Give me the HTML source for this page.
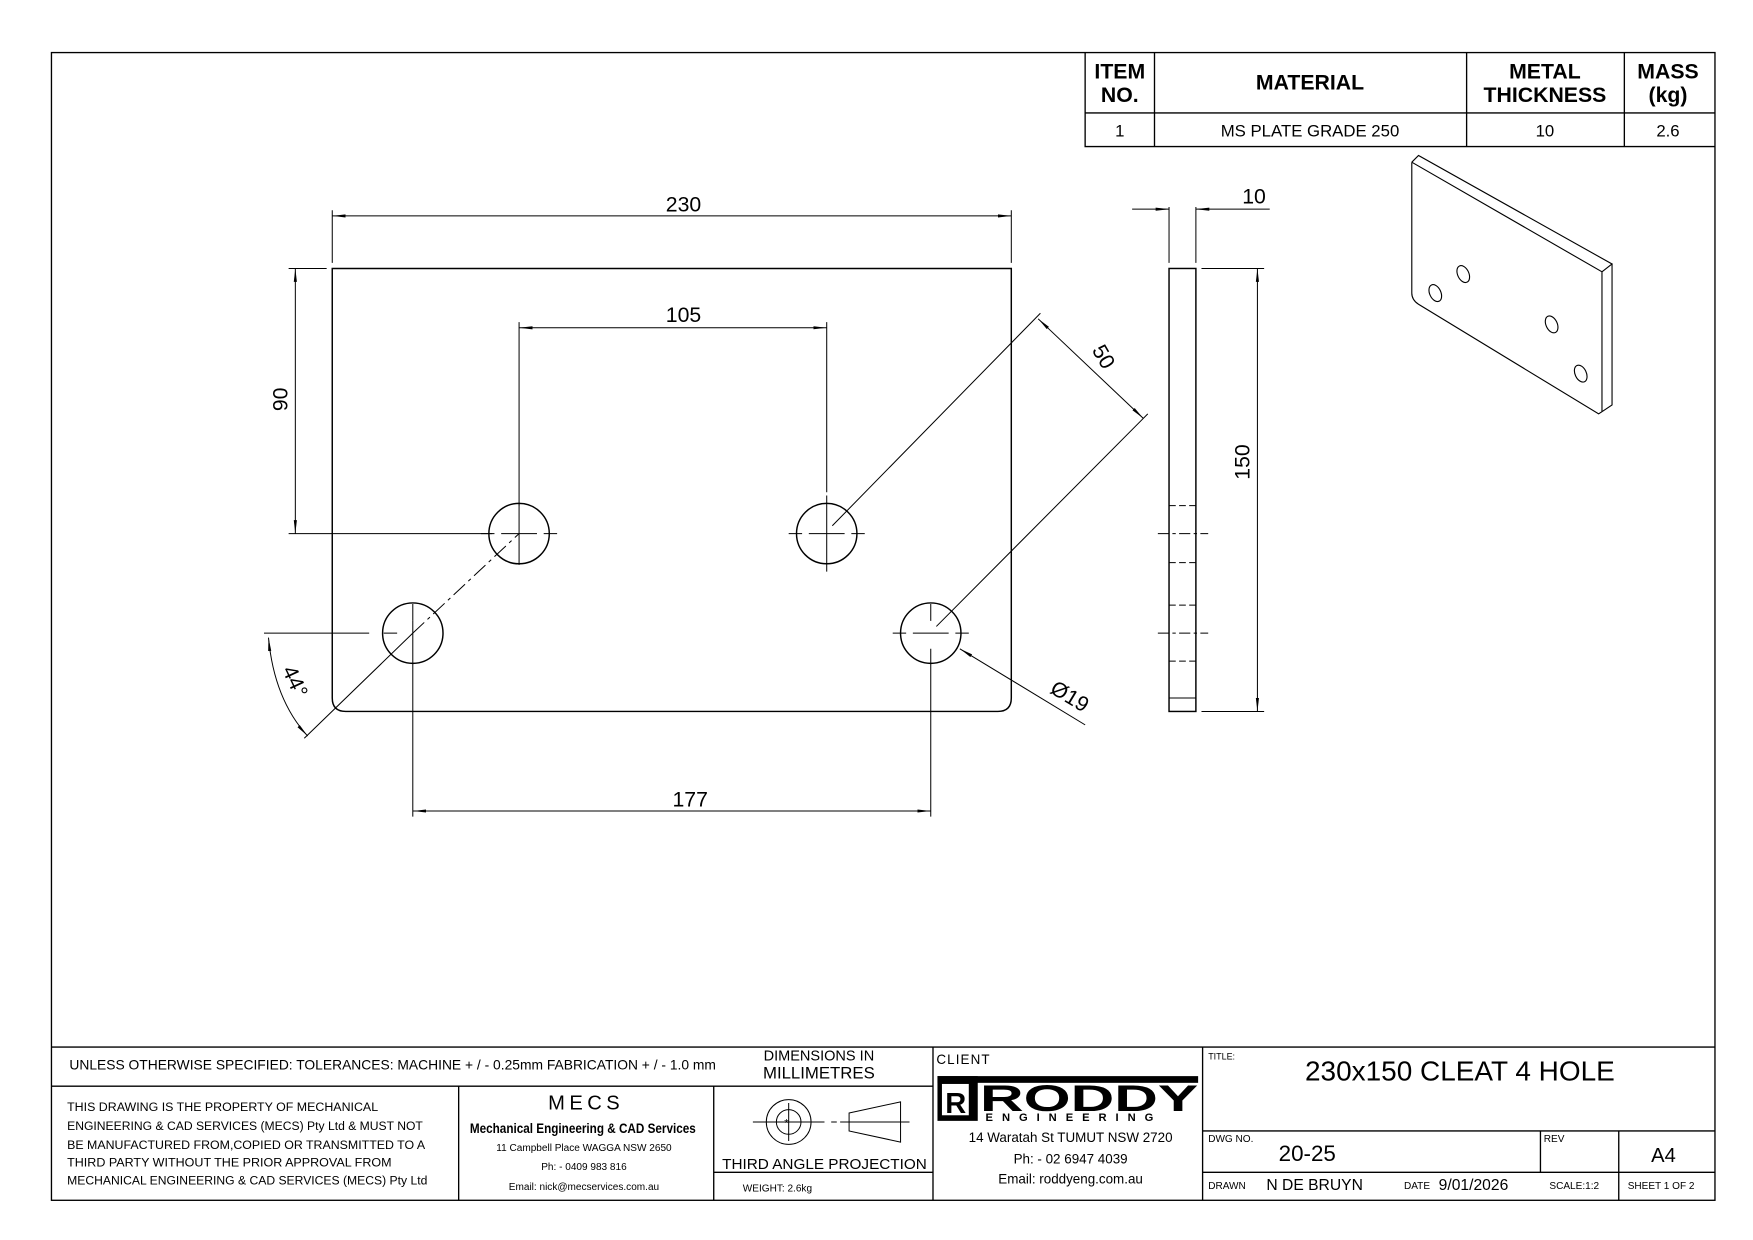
<!DOCTYPE html>
<html><head><meta charset="utf-8"><style>
html,body{margin:0;padding:0;background:#fff}
svg{display:block}
text{font-family:"Liberation Sans",sans-serif;fill:#000}
</style></head><body>
<svg width="1753" height="1240" viewBox="0 0 1567 1108.5" preserveAspectRatio="none" xmlns="http://www.w3.org/2000/svg">
<defs>
<marker id="a" viewBox="0 0 12 4" refX="12" refY="2" markerWidth="12" markerHeight="4" markerUnits="userSpaceOnUse" orient="auto-start-reverse"><path d="M0,0.6 L12,2 L0,3.4 Z" fill="#000"/></marker>
</defs>
<g fill="none" stroke="#000" stroke-width="1.2">
<rect x="46" y="47" width="1487" height="1026"/>
<path d="M970,47 V131 H1533 M970,101 H1533 M1032,47 V131 M1311,47 V131 M1452,47 V131"/>
<path d="M46,936 H1533 M46,971 H834 M410,971 V1073 M638,971 V1073 M834,936 V1073 M1075,936 V1073 M638,1048 H834 M1075,1011 H1533 M1075,1048 H1533 M1377,1011 V1048 M1447,1011 V1073"/>
</g>
<g fill="none" stroke="#000" stroke-width="1.3">
<path d="M297,240 H904 V624 Q904,636 892,636 H309 Q297,636 297,624 Z"/>
<circle cx="464" cy="477" r="27"/><circle cx="739" cy="477" r="27"/>
<circle cx="369" cy="566" r="27"/><circle cx="832" cy="566" r="27"/>
</g>
<g fill="none" stroke="#000" stroke-width="0.9">
<path d="M430,477 H442 M448,477 H480 M486,477 H498 M464,450 V505 M705,477 H717 M723,477 H755 M761,477 H773 M739,443 V511 M798,566 H810 M816,566 H848 M854,566 H866 M832,540 V555 M369,540 V555 M343,566 H355"/>
<path d="M297,188 V235 M904,188 V235"/>
<path d="M297,193 H904" marker-start="url(#a)" marker-end="url(#a)"/>
<path d="M464,288 V452 M739,288 V440"/>
<path d="M464,293 H739" marker-start="url(#a)" marker-end="url(#a)"/>
<path d="M258,240 H292 M258,477 H440"/>
<path d="M264,240 V477" marker-start="url(#a)" marker-end="url(#a)"/>
<path d="M369,555 V730 M832,580 V730"/>
<path d="M369,725 H832" marker-start="url(#a)" marker-end="url(#a)"/>
<path d="M236,566 H330"/>
<path d="M369,566 L272,660"/>
<path d="M369,566 L464,477" stroke-dasharray="14,4,3,4"/>
<path d="M240,570 Q245,625 275,658" marker-start="url(#a)" marker-end="url(#a)"/>
<path d="M744,470 L930,280 M837,560 L1026,370"/>
<path d="M928,285 L1022,374" marker-start="url(#a)" marker-end="url(#a)"/>
<path d="M970,648 L858,580" marker-end="url(#a)"/>
</g>
<g font-size="19">
<text x="611" y="189" text-anchor="middle">230</text>
<text x="611" y="288" text-anchor="middle">105</text>
<text x="617" y="721" text-anchor="middle">177</text>
<text transform="translate(257,357) rotate(-90)" text-anchor="middle">90</text>
<text transform="translate(981,322) rotate(60)" text-anchor="middle">50</text>
<text transform="translate(258,612) rotate(65)" text-anchor="middle">44°</text>
<text transform="translate(953,628) rotate(31)" text-anchor="middle">Ø19</text>
<text x="1121" y="182" text-anchor="middle">10</text>
<text transform="translate(1117,413) rotate(-90)" text-anchor="middle">150</text>
</g>
<g fill="none" stroke="#000" stroke-width="1.3">
<rect x="1045" y="240" width="24" height="396"/>
</g>
<g fill="none" stroke="#000" stroke-width="0.9">
<path d="M1045,185 V235 M1069,185 V235"/>
<path d="M1012,187 H1045" marker-end="url(#a)"/>
<path d="M1135,187 H1069" marker-end="url(#a)"/>
<path d="M1074,240 H1130 M1074,636 H1130"/>
<path d="M1124,240 V636" marker-start="url(#a)" marker-end="url(#a)"/>
<path d="M1045,452 H1069 M1045,503 H1069 M1045,541 H1069 M1045,591 H1069" stroke-dasharray="6,3"/>
<path d="M1035,477 H1080 M1035,566 H1080" stroke-dasharray="10,3,3,3"/>
<path d="M1045,624 H1069"/>
</g>
<g fill="none" stroke="#000" stroke-width="1">
<path d="M1262,145 L1432,243 L1432,368 M1262,145 V262 Q1262,268 1268,272 L1429,370 L1432,368"/>
<path d="M1262,145 L1268,139 L1441,236 L1432,243 M1441,236 V362 L1432,368"/>
<ellipse cx="1283" cy="262" rx="5" ry="8" transform="rotate(-25 1283 262)"/>
<ellipse cx="1308" cy="245" rx="5" ry="8" transform="rotate(-25 1308 245)"/>
<ellipse cx="1387" cy="290" rx="5" ry="8" transform="rotate(-25 1387 290)"/>
<ellipse cx="1413" cy="334" rx="5" ry="8" transform="rotate(-25 1413 334)"/>
</g>
<g font-weight="bold" text-anchor="middle" font-size="19">
<text x="1001" y="70">ITEM</text><text x="1001" y="91">NO.</text>
<text x="1171" y="80">MATERIAL</text>
<text x="1381" y="70">METAL</text><text x="1381" y="91">THICKNESS</text>
<text x="1491" y="70">MASS</text><text x="1491" y="91">(kg)</text>
</g>
<g text-anchor="middle" font-size="15">
<text x="1001" y="122">1</text>
<text x="1171" y="122">MS PLATE GRADE 250</text>
<text x="1381" y="122">10</text>
<text x="1491" y="122">2.6</text>
</g>
<g font-size="12">
<text x="62" y="956" textLength="578" lengthAdjust="spacingAndGlyphs">UNLESS OTHERWISE SPECIFIED: TOLERANCES: MACHINE + / - 0.25mm  FABRICATION + / - 1.0 mm</text>
<text x="60" y="993" font-size="10.5" textLength="278" lengthAdjust="spacingAndGlyphs">THIS DRAWING IS THE PROPERTY OF MECHANICAL</text>
<text x="60" y="1010" font-size="10.5" textLength="318" lengthAdjust="spacingAndGlyphs">ENGINEERING &amp; CAD SERVICES (MECS) Pty Ltd &amp; MUST NOT</text>
<text x="60" y="1027" font-size="10.5" textLength="320" lengthAdjust="spacingAndGlyphs">BE MANUFACTURED FROM,COPIED OR TRANSMITTED TO A</text>
<text x="60" y="1043" font-size="10.5" textLength="290" lengthAdjust="spacingAndGlyphs">THIRD PARTY WITHOUT THE PRIOR APPROVAL FROM</text>
<text x="60" y="1059" font-size="10.5" textLength="322" lengthAdjust="spacingAndGlyphs">MECHANICAL ENGINEERING &amp; CAD SERVICES (MECS) Pty Ltd</text>
</g>
<g text-anchor="middle">
<text x="524" y="992" font-size="18" letter-spacing="4">MECS</text>
<text x="521" y="1013" font-size="12" font-weight="bold" textLength="202" lengthAdjust="spacingAndGlyphs">Mechanical Engineering &amp; CAD Services</text>
<text x="522" y="1029" font-size="9">11 Campbell Place WAGGA NSW 2650</text>
<text x="522" y="1046" font-size="9">Ph: - 0409 983 816</text>
<text x="522" y="1064" font-size="9">Email: nick@mecservices.com.au</text>
<text x="732" y="948" font-size="13">DIMENSIONS IN</text>
<text x="732" y="964" font-size="15">MILLIMETRES</text>
<text x="737" y="1045" font-size="13" textLength="183" lengthAdjust="spacingAndGlyphs">THIRD ANGLE PROJECTION</text>
</g>
<text x="664" y="1065" font-size="9">WEIGHT: 2.6kg</text>
<g fill="none" stroke="#000" stroke-width="0.9">
<circle cx="705" cy="1003" r="20"/><circle cx="705" cy="1003" r="11"/>
<path d="M673,1003 H737 M705,986 V1020 M743,1003 H748 M752,1003 H757 M751,1003 H813 M759,995 L805,985 V1021 L759,1011 Z"/>
</g>
<text x="701" y="1007" font-size="10">*</text>
<text x="837" y="951" font-size="12" letter-spacing="1">CLIENT</text>
<rect x="838" y="962" width="233" height="6" fill="#000"/>
<rect x="838" y="962" width="36" height="40" fill="#000"/>
<rect x="842" y="969" width="24" height="28" fill="#fff"/>
<text x="845" y="995" font-size="26" font-weight="bold">R</text>
<text x="876" y="993" font-size="33" font-weight="bold" textLength="195" lengthAdjust="spacingAndGlyphs">RODDY</text>
<text x="881" y="1002" font-size="10" font-weight="bold" letter-spacing="8">ENGINEERING</text>
<g text-anchor="middle" font-size="12">
<text x="957" y="1021">14 Waratah St TUMUT NSW 2720</text>
<text x="957" y="1040">Ph: - 02 6947 4039</text>
<text x="957" y="1058">Email: roddyeng.com.au</text>
</g>
<text x="1080" y="947" font-size="8">TITLE:</text>
<text x="1305" y="966" font-size="25" text-anchor="middle">230x150 CLEAT 4 HOLE</text>
<text x="1080" y="1021" font-size="9">DWG NO.</text>
<text x="1143" y="1038" font-size="20">20-25</text>
<text x="1380" y="1021" font-size="9">REV</text>
<text x="1487" y="1039" font-size="18" text-anchor="middle">A4</text>
<text x="1080" y="1063" font-size="9">DRAWN</text>
<text x="1132" y="1064" font-size="14">N DE BRUYN</text>
<text x="1255" y="1063" font-size="9">DATE</text>
<text x="1286" y="1064" font-size="14">9/01/2026</text>
<text x="1385" y="1063" font-size="9">SCALE:1:2</text>
<text x="1455" y="1063" font-size="9">SHEET 1 OF 2</text>
</svg>
</body></html>
